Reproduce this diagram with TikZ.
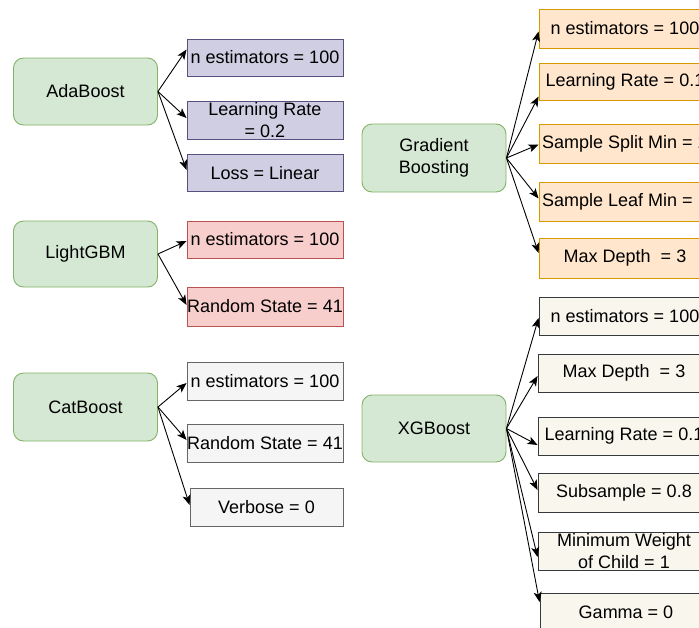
\documentclass[tikz,border=0pt]{standalone}
\usepackage{fontspec}
\setmainfont{Liberation Sans}
\usetikzlibrary{arrows.meta}
\definecolor{modelfill}{HTML}{D5E8D4}
\definecolor{modeldraw}{HTML}{82B366}
\definecolor{adafill}{HTML}{D0CEE2}
\definecolor{adadraw}{HTML}{56517E}
\definecolor{lgbfill}{HTML}{F8CECC}
\definecolor{lgbdraw}{HTML}{B85450}
\definecolor{catfill}{HTML}{F5F5F5}
\definecolor{catdraw}{HTML}{666666}
\definecolor{gbfill}{HTML}{FFE6CC}
\definecolor{gbdraw}{HTML}{D79B00}
\definecolor{xgbfill}{HTML}{F9F7ED}
\definecolor{xgbdraw}{HTML}{36393D}
\tikzset{model/.style={draw=modeldraw, fill=modelfill, rounded corners=10pt, minimum width=144pt, minimum height=67pt, inner sep=0pt, align=center}}
\tikzset{param/.style={draw, rectangle, minimum width=156pt, minimum height=38pt, inner sep=0pt, align=center}}
\tikzset{ada param/.style={param, draw=adadraw, fill=adafill}}
\tikzset{lgb param/.style={param, draw=lgbdraw, fill=lgbfill}}
\tikzset{cat param/.style={param, draw=catdraw, fill=catfill}}
\tikzset{gb param/.style={param, draw=gbdraw, fill=gbfill, minimum width=172pt}}
\tikzset{xgb param/.style={param, draw=xgbdraw, fill=xgbfill, minimum width=172pt}}

\begin{document}
\begin{tikzpicture}[x=1pt, y=-1pt, line width=0.9pt, font=\fontsize{18}{22}\selectfont, >={Stealth[length=10pt, width=8pt, inset=2.5pt]}]
\useasboundingbox (0,0) rectangle (699,627);
\clip (0,0) rectangle (699,627);
% left column
\node[model] (ada) at (85.5,91.5) {AdaBoost};
\node[ada param, minimum height=37pt] (ada1) at (265,57.5) {n estimators = 100};
\node[ada param] (ada2) at (265,120) {Learning Rate\\= 0.2};
\node[ada param, minimum height=37pt] (ada3) at (265,173) {Loss = Linear};
\draw [->] (ada.east) -- ([yshift=8pt]ada1.west);
\draw [->] (ada.east) -- ([yshift=2pt]ada2.west);
\draw [->] (ada.east) -- ([yshift=3pt]ada3.west);

\node[model, minimum height=66pt] (lgb) at (85.5,254) {LightGBM};
\node[lgb param, minimum height=37pt] (lgb1) at (265,239.5) {n estimators = 100};
\node[lgb param, minimum height=39pt] (lgb2) at (265,306.5) {Random State = 41};
\draw [->] (lgb.east) -- ([yshift=-1.5pt]lgb1.west);
\draw [->] (lgb.east) -- ([yshift=1.5pt]lgb2.west);

\node[model, minimum height=68pt] (cat) at (85.5,407) {CatBoost};
\node[cat param] (cat1) at (265,381) {n estimators = 100};
\node[cat param] (cat2) at (265,443) {Random State = 41};
\node[cat param, minimum width=153pt] (cat3) at (266.5,507) {Verbose = 0};
\draw [->] (cat.east) -- ([yshift=-2pt]cat1.west);
\draw [->] (cat.east) -- ([yshift=3pt]cat2.west);
\draw [->] (cat.east) -- ([yshift=2pt]cat3.west);

% right column
\node[model, minimum height=68pt] (gb) at (434,158) {Gradient\\Boosting};
\node[gb param, minimum height=39pt] (gb1) at (625,28.5) {n estimators = 100};
\node[gb param, minimum height=37pt] (gb2) at (625,81.5) {Learning Rate = 0.1};
\node[gb param, minimum height=39pt] (gb3) at (625,143.5) {Sample Split Min = 2};
\node[gb param, minimum height=39pt] (gb4) at (625,201.5) {Sample Leaf Min = 1};
\node[gb param, minimum height=40pt] (gb5) at (625,258) {Max Depth\ \ = 3};
\draw [->] (gb.east) -- ([yshift=-3pt]gb1.west);
\draw [->] (gb.east) -- ([yshift=-15pt]gb2.west);
\draw [->] (gb.east) -- ([yshift=-1pt]gb3.west);
\draw [->] (gb.east) -- ([yshift=3pt]gb4.west);
\draw [->] (gb.east) -- ([yshift=5pt]gb5.west);

\node[model] (xgb) at (434,428.5) {XGBoost};
\node[xgb param] (xgb1) at (625,316) {n estimators = 100};
\node[xgb param] (xgb2) at (624,373) {Max Depth\ \ = 3};
\node[xgb param] (xgb3) at (624,436) {Learning Rate = 0.1};
\node[xgb param, minimum height=39pt] (xgb4) at (624,492.5) {Subsample = 0.8};
\node[xgb param] (xgb5) at (624,551) {Minimum Weight\\of Child = 1};
\node[xgb param] (xgb6) at (626,612) {Gamma = 0};
\draw [->] (xgb.east) -- ([yshift=-2pt]xgb1.west);
\draw [->] (xgb.east) -- ([yshift=-3pt]xgb2.west);
\draw [->] (xgb.east) -- ([yshift=-9pt]xgb3.west);
\draw [->] (xgb.east) -- ([yshift=2.5pt]xgb4.west);
\draw [->] (xgb.east) -- ([yshift=-6pt]xgb5.west);
\draw [->] (xgb.east) -- ([yshift=10pt]xgb6.west);
\end{tikzpicture}
\end{document}
